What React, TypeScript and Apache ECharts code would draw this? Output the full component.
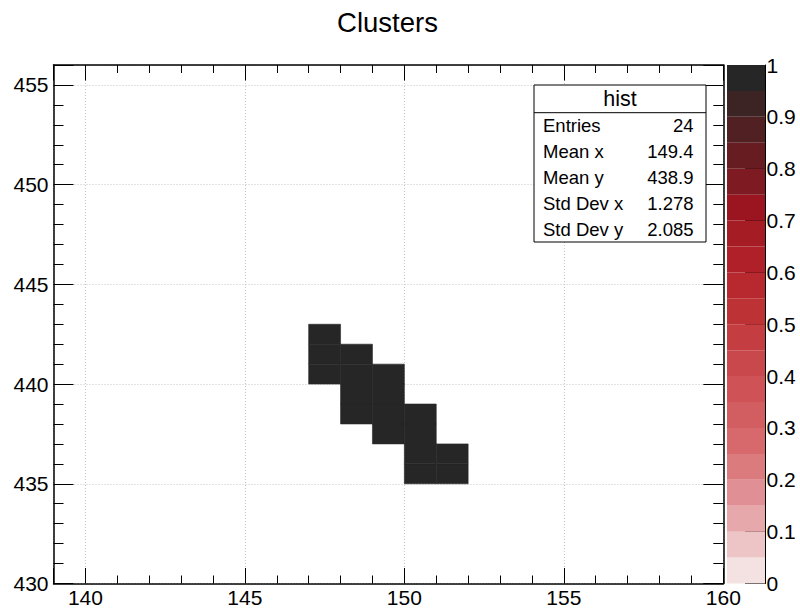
import React, { useEffect, useRef } from "react";
import * as echarts from "echarts";

// ---- data ----
const titleText = "Clusters";
const histName = "hist";
const xRange = [139, 160];
const yRange = [430, 456];
const zRange = [0, 1];

// 2D histogram bins (lower edges, bin width 1 in x and y) and their content
const cellX = [147, 147, 147, 148, 148, 148, 148, 149, 149, 149, 149, 150, 150, 150, 150, 151, 151];
const cellY = [440, 441, 442, 438, 439, 440, 441, 437, 438, 439, 440, 435, 436, 437, 438, 435, 436];
const cellZ = [1, 1, 1, 1, 1, 1, 1, 1, 1, 1, 1, 1, 1, 1, 1, 1, 1];

// colour palette levels (bottom to top)
const zLevels = [0, 0.05, 0.1, 0.15, 0.2, 0.25, 0.3, 0.35, 0.4, 0.45, 0.5, 0.55, 0.6, 0.65, 0.7, 0.75, 0.8, 0.85, 0.9, 0.95, 1];
const paletteColors = [
  "#f4e1e2", "#edc5c6", "#e6a8ab", "#e09094", "#db7b7e",
  "#d7696d", "#d35e61", "#cf5257", "#c9484b", "#c43d40",
  "#bd3335", "#b8292f", "#b02028", "#a61c25", "#9a1520",
  "#7e1a21", "#661c21", "#512023", "#3c2324", "#262626",
];

// stats box
const statLabels = ["Entries", "Mean x", "Mean y", "Std Dev x", "Std Dev y"];
const statValues = ["24", "149.4", "438.9", "1.278", "2.085"];

const FONT = "'Liberation Sans', Arial, Helvetica, sans-serif";

export default function App() {
  const ref = useRef<HTMLDivElement>(null);

  useEffect(() => {
    if (!ref.current) return;
    const chart = echarts.init(ref.current, null, { renderer: "svg" });

    const cellData = cellX.map((x, i) => [x, cellY[i], cellZ[i]]);
    const levelData = paletteColors.map((_, i) => [zLevels[i], zLevels[i + 1], (zLevels[i] + zLevels[i + 1]) / 2]);

    const pieces = paletteColors.map((c, i) =>
      i === paletteColors.length - 1
        ? { gte: zLevels[i], lte: zLevels[i + 1], color: c }
        : { gte: zLevels[i], lt: zLevels[i + 1], color: c }
    );

    const gridLeft = 53.5, gridTop = 65, gridW = 669.8, gridH = 518.5;

    const splitLine = { show: true, lineStyle: { color: "#c4c4c4", width: 1, type: [1, 2] } };
    const fiveFmt = (v: number) => (Math.abs(v % 5) < 1e-9 ? String(v) : "");

    const statBox = { x: 534, y: 85, w: 172, h: 157, head: 27.7 };
    const lineH = (statBox.h - statBox.head) / statLabels.length;

    const graphics: any[] = [
      {
        type: "text", x: 387.5, y: 22, z: 100,
        style: { text: titleText, fontSize: 27.5, fontFamily: FONT, fill: "#000", align: "center", verticalAlign: "middle" },
      },
      {
        type: "rect", z: 100,
        shape: { x: statBox.x, y: statBox.y, width: statBox.w, height: statBox.h },
        style: { fill: "#fff", stroke: "#000", lineWidth: 1 },
      },
      {
        type: "line", z: 101,
        shape: { x1: statBox.x, y1: statBox.y + statBox.head, x2: statBox.x + statBox.w, y2: statBox.y + statBox.head },
        style: { stroke: "#000", lineWidth: 1 },
      },
      {
        type: "text", z: 101, x: statBox.x + statBox.w / 2, y: statBox.y + statBox.head / 2 + 0.5,
        style: { text: histName, fontSize: 21.5, fontFamily: FONT, fill: "#000", align: "center", verticalAlign: "middle" },
      },
    ];
    statLabels.forEach((lab, i) => {
      const cy = statBox.y + statBox.head + lineH * (i + 0.5);
      graphics.push({
        type: "text", z: 101, x: statBox.x + 9, y: cy,
        style: { text: lab, fontSize: 18.5, fontFamily: FONT, fill: "#000", align: "left", verticalAlign: "middle" },
      });
      graphics.push({
        type: "text", z: 101, x: statBox.x + statBox.w - 12.5, y: cy,
        style: { text: statValues[i], fontSize: 18.5, fontFamily: FONT, fill: "#000", align: "right", verticalAlign: "middle" },
      });
    });

    const option: any = {
      animation: false,
      backgroundColor: "#fff",
      textStyle: { fontFamily: FONT },
      grid: [
        { left: gridLeft, top: gridTop, width: gridW, height: gridH, containLabel: false },
        { left: 727, top: gridTop, width: 38, height: gridH, containLabel: false },
      ],
      visualMap: {
        type: "piecewise",
        show: false,
        dimension: 2,
        seriesIndex: [0, 1],
        pieces,
      },
      xAxis: [
        {
          type: "value", gridIndex: 0, position: "bottom", min: xRange[0], max: xRange[1], splitNumber: 5,
          axisLine: { show: true, onZero: false, lineStyle: { color: "#000", width: 1.5, type: [2, 1] } },
          axisTick: { show: true, inside: true, length: 15.5, lineStyle: { color: "#000", width: 1 } },
          minorTick: { show: true, splitNumber: 5, length: 8, lineStyle: { color: "#000", width: 1 } },
          axisLabel: { show: true, fontSize: 21, color: "#000", margin: 3, fontFamily: FONT, formatter: fiveFmt },
          splitLine,
          minorSplitLine: { show: false },
        },
        {
          type: "value", gridIndex: 0, position: "top", min: xRange[0], max: xRange[1], splitNumber: 5,
          axisLine: { show: true, onZero: false, lineStyle: { color: "#000", width: 1.5 } },
          axisTick: { show: true, inside: true, length: 15.5, lineStyle: { color: "#000", width: 1 } },
          minorTick: { show: true, splitNumber: 5, length: 8, lineStyle: { color: "#000", width: 1 } },
          axisLabel: { show: false },
          splitLine: { show: false },
        },
        {
          type: "value", gridIndex: 1, min: 0, max: 1, show: false,
        },
      ],
      yAxis: [
        {
          type: "value", gridIndex: 0, position: "left", min: yRange[0], max: yRange[1], splitNumber: 5,
          axisLine: { show: true, onZero: false, lineStyle: { color: "#000", width: 1.5 } },
          axisTick: { show: true, inside: true, length: 20, lineStyle: { color: "#000", width: 1 } },
          minorTick: { show: true, splitNumber: 5, length: 10, lineStyle: { color: "#000", width: 1 } },
          axisLabel: { show: true, fontSize: 21, color: "#000", margin: 5, fontFamily: FONT, formatter: fiveFmt },
          splitLine,
          minorSplitLine: { show: false },
        },
        {
          type: "value", gridIndex: 0, position: "right", min: yRange[0], max: yRange[1], splitNumber: 5,
          axisLine: { show: true, onZero: false, lineStyle: { color: "#000", width: 1.5 } },
          axisTick: { show: true, inside: true, length: 20, lineStyle: { color: "#000", width: 1 } },
          minorTick: { show: true, splitNumber: 5, length: 10, lineStyle: { color: "#000", width: 1 } },
          axisLabel: { show: false },
          splitLine: { show: false },
        },
        {
          type: "value", gridIndex: 1, position: "right", min: zRange[0], max: zRange[1], interval: 0.1,
          axisLine: { show: true, onZero: false, lineStyle: { color: "#000", width: 1 } },
          axisTick: { show: true, inside: true, length: 20, lineStyle: { color: "#000", width: 1 } },
          axisLabel: {
            show: true, fontSize: 21, color: "#000", margin: 1.5, fontFamily: FONT,
            formatter: (v: number) => String(Math.round(v * 10) / 10),
          },
          splitLine: { show: false },
        },
      ],
      series: [
        {
          type: "custom",
          xAxisIndex: 0,
          yAxisIndex: 0,
          data: cellData,
          z: 2,
          renderItem: (params: any, api: any) => {
            const x = api.value(0);
            const y = api.value(1);
            const p1 = api.coord([x, y + 1]);
            const p2 = api.coord([x + 1, y]);
            const c = api.visual("color");
            return {
              type: "rect",
              shape: { x: p1[0], y: p1[1], width: p2[0] - p1[0], height: p2[1] - p1[1] },
              style: { fill: c, stroke: c, lineWidth: 0.6 },
            };
          },
        },
        {
          type: "custom",
          xAxisIndex: 2,
          yAxisIndex: 2,
          data: levelData,
          z: 1,
          renderItem: (params: any, api: any) => {
            const lo = api.value(0);
            const hi = api.value(1);
            const p1 = api.coord([0, hi]);
            const p2 = api.coord([1, lo]);
            return {
              type: "rect",
              shape: { x: p1[0], y: p1[1], width: p2[0] - p1[0], height: p2[1] - p1[1] },
              style: { fill: api.visual("color") },
            };
          },
        },
      ],
      graphic: graphics,
    };

    chart.setOption(option);
    return () => chart.dispose();
  }, []);

  return (
    <div
      ref={ref}
      style={{ position: "absolute", left: 0, top: 0, width: 800, height: 609, background: "#fff" }}
    />
  );
}
